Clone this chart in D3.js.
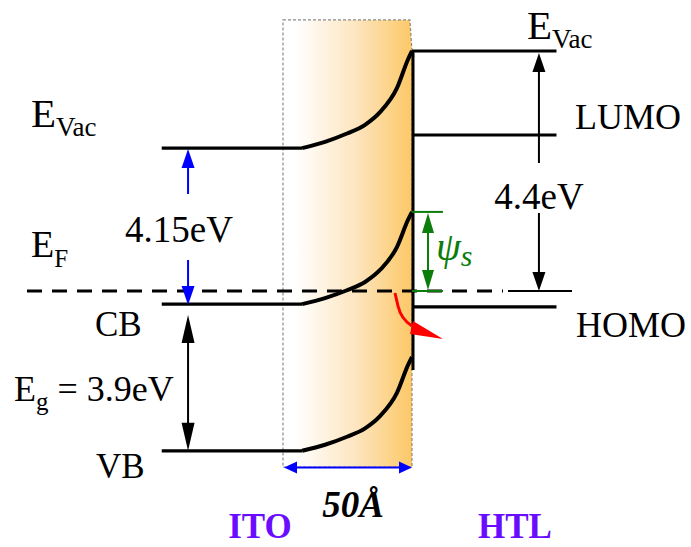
<!DOCTYPE html>
<html>
<head>
<meta charset="utf-8">
<script src="https://cdn.jsdelivr.net/npm/d3@7"></script>
<style>
  html, body { margin: 0; padding: 0; background: #fff; }
  svg { display: block; }
  text { font-family: "Liberation Serif", "Times New Roman", serif; }
</style>
</head>
<body>
<svg id="chart" width="691" height="547"></svg>
<script>
// ---- data (schematic energies in eV relative to E_F, positions in Å from interface) ----
const bandNames      = ["E_Vac", "CB", "VB"];
const itoLevels      = [2.62, -0.24, -2.93];   // flat ITO levels
const interfaceLevels = [4.4, 1.45, -1.21];    // levels at interface after band bending
const htlNames       = ["E_Vac", "LUMO", "HOMO"];
const htlLevels      = [4.4, 2.86, -0.29];
const fermiLevel     = 0;
const bendX          = [-42.6, -33.7, -25.2, -18.2, -12.4, -5.8, -1.6, 0];
const bendFrac       = [0, 0.065, 0.15, 0.24, 0.37, 0.62, 0.91, 1];
const depletionWidth = [-50, 0];
const itoStart       = -97;
const htlEnd         = 56;
const gapLabels      = ["4.15eV", "3.9eV", "4.4eV"];
const widthLabel     = "50Å";
const regionLabels   = ["ITO", "HTL"];

// ---- scales ----
const svg = d3.select("#chart");
const x = d3.scaleLinear().domain(depletionWidth).range([283, 412]);
const y = d3.scaleLinear().domain([0, 4.4]).range([291, 51]);

const BLUE = "#0000ff", GREEN = "#0b7d0b", RED = "#ff0000", PURPLE = "#6a0dff";

// gradient
const defs = svg.append("defs");
const grad = defs.append("linearGradient").attr("id", "dep").attr("x1", "0%").attr("x2", "100%");
grad.append("stop").attr("offset", "0%").attr("stop-color", "#ffffff");
grad.append("stop").attr("offset", "10%").attr("stop-color", "#ffffff");
grad.append("stop").attr("offset", "55%").attr("stop-color", "#fde6c2");
grad.append("stop").attr("offset", "100%").attr("stop-color", "#fcc867");

const rTop = y(4.97), rBot = y(-3.23);
svg.append("path")
  .attr("d", `M${x(-50)},${rTop} L${x(-0.8)},${rTop} L${x(0)},${y(4.4)} L${x(0)},${rBot} L${x(-50)},${rBot} Z`)
  .attr("fill", "url(#dep)")
  .attr("stroke", "#8a8a8a").attr("stroke-width", 1.2).attr("stroke-dasharray", "3,2");

// Fermi level dashed line
svg.append("line")
  .attr("x1", 27).attr("x2", 503).attr("y1", y(fermiLevel)).attr("y2", y(fermiLevel))
  .attr("stroke", "#000").attr("stroke-width", 3).attr("stroke-dasharray", "15,10");
svg.append("line")
  .attr("x1", 508).attr("x2", 572).attr("y1", y(fermiLevel)).attr("y2", y(fermiLevel))
  .attr("stroke", "#000").attr("stroke-width", 2);

// ITO bands: flat + bending
const curve = d3.line().x(d => x(d[0])).y(d => y(d[1])).curve(d3.curveMonotoneX);
bandNames.forEach((b, i) => {
  svg.append("line")
    .attr("x1", x(itoStart)).attr("x2", x(bendX[0])).attr("y1", y(itoLevels[i])).attr("y2", y(itoLevels[i]))
    .attr("stroke", "#000").attr("stroke-width", 3.2);
  const pts = bendX.map((bx, k) => [bx, itoLevels[i] + bendFrac[k] * (interfaceLevels[i] - itoLevels[i])]);
  svg.append("path").attr("d", curve(pts)).attr("fill", "none")
    .attr("stroke", "#000").attr("stroke-width", 4);
});

// interface line
svg.append("line").attr("x1", x(0) + 1).attr("x2", x(0) + 1).attr("y1", y(4.4) - 1).attr("y2", y(-1.45))
  .attr("stroke", "#000").attr("stroke-width", 3);

// HTL levels
htlLevels.forEach(v => {
  svg.append("line").attr("x1", x(0)).attr("x2", x(htlEnd)).attr("y1", y(v)).attr("y2", y(v))
    .attr("stroke", "#000").attr("stroke-width", 3.2);
});

// arrow helper
function head(tx, ty, dir, len, hw, color) {
  let p;
  if (dir === "up") p = [[tx, ty], [tx - hw, ty + len], [tx + hw, ty + len]];
  else if (dir === "down") p = [[tx, ty], [tx - hw, ty - len], [tx + hw, ty - len]];
  else if (dir === "left") p = [[tx, ty], [tx + len, ty - hw], [tx + len, ty + hw]];
  else p = [[tx, ty], [tx - len, ty - hw], [tx - len, ty + hw]];
  svg.append("path").attr("d", "M" + p.map(q => q.join(",")).join("L") + "Z").attr("fill", color);
}
function seg(x1, y1, x2, y2, color, w) {
  svg.append("line").attr("x1", x1).attr("y1", y1).attr("x2", x2).attr("y2", y2)
    .attr("stroke", color).attr("stroke-width", w);
}

// 4.15 eV blue arrow
const ax1 = x(-86.8);
const yEv = y(itoLevels[0]), yCB = y(itoLevels[1]), yVB = y(itoLevels[2]);
head(ax1, yEv + 1, "up", 19, 6.5, BLUE);
seg(ax1, yEv + 19, ax1, 194, BLUE, 2);
seg(ax1, 260, ax1, yCB - 18, BLUE, 2);
head(ax1, yCB + 1, "down", 19, 6.5, BLUE);
svg.append("text").attr("x", 179).attr("y", 242).attr("text-anchor", "middle")
  .attr("font-size", 37).text(gapLabels[0]);

// Eg black arrow
head(ax1, yCB + 11, "up", 28, 6.5, "#000");
seg(ax1, yCB + 38, ax1, yVB - 27, "#000", 2);
head(ax1, yVB, "down", 28, 6.5, "#000");

// 4.4 eV arrow
const ax2 = x(49.2);
head(ax2, y(4.4) + 2, "up", 19, 6.5, "#000");
seg(ax2, y(4.4) + 20, ax2, 163, "#000", 2);
seg(ax2, 213, ax2, y(fermiLevel) - 18, "#000", 2);
head(ax2, y(fermiLevel), "down", 19, 6.5, "#000");
svg.append("text").attr("x", 539).attr("y", 209).attr("text-anchor", "middle")
  .attr("font-size", 37).text(gapLabels[2]);

// psi_s green
const gx = x(6.2);
const yPs = y(interfaceLevels[1]);
seg(x(0), yPs, x(12), yPs, GREEN, 2);
seg(x(0), y(fermiLevel), x(12), y(fermiLevel), GREEN, 2);
head(gx, yPs + 1, "up", 20, 6, GREEN);
seg(gx, yPs + 20, gx, y(fermiLevel) - 20, GREEN, 2);
head(gx, y(fermiLevel) - 1, "down", 20, 6, GREEN);
const psi = svg.append("text").attr("x", 436).attr("y", 260).attr("fill", GREEN)
  .attr("font-style", "italic").attr("font-size", 40);
psi.append("tspan").text("ψ");
psi.append("tspan").attr("font-size", 30).attr("dy", 6).text("s");

// red arrow
svg.append("path").attr("d", "M395,293 L398,306 Q401,319 412,326")
  .attr("fill", "none").attr("stroke", RED).attr("stroke-width", 3);
svg.append("path").attr("d", "M413,321 L410,334 L443,339 Z").attr("fill", RED);

// 50 Å blue arrow
const yw = 467.5;
head(x(-50) + 1, yw, "left", 13, 6, BLUE);
seg(x(-50) + 12, yw, x(0) - 12, yw, BLUE, 2);
head(x(0), yw, "right", 13, 6, BLUE);
svg.append("text").attr("x", 353).attr("y", 517).attr("text-anchor", "middle")
  .attr("font-size", 37).attr("font-weight", "bold").attr("font-style", "italic").text(widthLabel);

// region labels
svg.append("text").attr("x", 260).attr("y", 538).attr("text-anchor", "middle")
  .attr("font-size", 35).attr("font-weight", "bold").attr("fill", PURPLE).text(regionLabels[0]);
svg.append("text").attr("x", 515).attr("y", 538).attr("text-anchor", "middle")
  .attr("font-size", 35).attr("font-weight", "bold").attr("fill", PURPLE).text(regionLabels[1]);

// level labels
function sub(xp, yp, main, subt, size, subSize, dy) {
  const t = svg.append("text").attr("x", xp).attr("y", yp).attr("font-size", size);
  t.append("tspan").text(main);
  t.append("tspan").attr("font-size", subSize).attr("dy", dy).text(subt);
  return t;
}
sub(31, 127, "E", "Vac", 41, 27, 9);
sub(527, 39, "E", "Vac", 41, 27, 9);
sub(31, 257, "E", "F", 38, 25, 10);
svg.append("text").attr("x", 95).attr("y", 336).attr("font-size", 35).text("CB");
svg.append("text").attr("x", 96).attr("y", 478).attr("font-size", 35).text("VB");
svg.append("text").attr("x", 575).attr("y", 129).attr("font-size", 36).text(htlNames[1]);
svg.append("text").attr("x", 576).attr("y", 337).attr("font-size", 36).text(htlNames[2]);
const eg = svg.append("text").attr("x", 14).attr("y", 401).attr("font-size", 36);
eg.append("tspan").text("E");
eg.append("tspan").attr("font-size", 25).attr("dy", 9).text("g");
eg.append("tspan").attr("dy", -9).text(" = " + gapLabels[1]);
</script>
</body>
</html>
